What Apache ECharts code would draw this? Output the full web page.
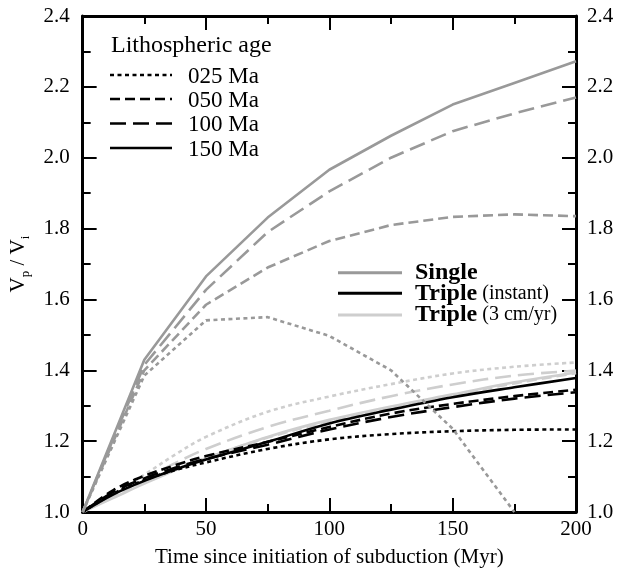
<!DOCTYPE html>
<html>
<head>
<meta charset="utf-8">
<script src="https://cdn.jsdelivr.net/npm/echarts@6/dist/echarts.min.js"></script>
<style>
html,body{margin:0;padding:0;background:#fff;}
#chart{width:617px;height:573px;}
</style>
</head>
<body>
<div id="chart"></div>
<script>
// ---- data ----
var T_SINGLE = [0, 25, 50, 75, 100, 125, 150, 175, 200];
var T_TRIPLE = [0, 12.5, 25, 37.5, 50, 75, 100, 125, 150, 175, 200];

var single025 = [1.0, 1.385, 1.541, 1.550, 1.497, 1.400, 1.235, 1.0, null];
var single050 = [1.0, 1.400, 1.585, 1.690, 1.765, 1.810, 1.833, 1.840, 1.835];
var single100 = [1.0, 1.415, 1.627, 1.790, 1.905, 2.000, 2.075, 2.125, 2.170];
var single150 = [1.0, 1.430, 1.665, 1.831, 1.966, 2.062, 2.150, 2.211, 2.272];

var tripleI025 = [1.0, 1.052, 1.090, 1.118, 1.140, 1.178, 1.205, 1.220, 1.228, 1.232, 1.233];
var tripleI050 = [1.0, 1.062, 1.102, 1.132, 1.158, 1.198, 1.240, 1.278, 1.305, 1.327, 1.345];
var tripleI100 = [1.0, 1.057, 1.095, 1.125, 1.150, 1.190, 1.233, 1.268, 1.296, 1.320, 1.338];
var tripleI150 = [1.0, 1.050, 1.088, 1.120, 1.148, 1.198, 1.250, 1.289, 1.324, 1.352, 1.378];

var tripleS025 = [1.0, 1.050, 1.105, 1.162, 1.212, 1.283, 1.326, 1.361, 1.391, 1.410, 1.422];
var tripleS050 = [1.0, 1.043, 1.083, 1.120, 1.152, 1.210, 1.256, 1.295, 1.330, 1.363, 1.392];
var tripleS100 = [1.0, 1.048, 1.093, 1.138, 1.178, 1.240, 1.286, 1.327, 1.360, 1.385, 1.399];
var tripleS150 = [1.0, 1.040, 1.080, 1.118, 1.152, 1.212, 1.260, 1.298, 1.332, 1.366, 1.394];

var AGE_LABELS = ['025 Ma', '050 Ma', '100 Ma', '150 Ma'];
var MODEL_LABELS = ['Single', 'Triple', 'Triple'];
var MODEL_NOTES = ['', '(instant)', '(3 cm/yr)'];

// ---- styles ----
var FONT = 'Liberation Serif';
var C_SINGLE = '#999999', C_INST = '#000000', C_SLOW = '#cecece';
var DASH = [[4, 3.5], [10, 5], [16, 7], 'solid'];
var LW = 2.6;

function pairs(ts, vs) {
  var out = [];
  for (var i = 0; i < ts.length; i++) if (vs[i] !== null) out.push([ts[i], vs[i]]);
  return out;
}
function mk(name, ts, vs, color, dash, smooth) {
  return {
    name: name, type: 'line', data: pairs(ts, vs), symbol: 'none',
    smooth: smooth ? 0.35 : false,
    lineStyle: { color: color, width: LW, type: dash, cap: 'butt' },
    clip: true, z: 2, animation: false
  };
}

var series = [
  mk('S025', T_TRIPLE, tripleS025, C_SLOW, DASH[0], true),
  mk('S050', T_TRIPLE, tripleS050, C_SLOW, DASH[1], true),
  mk('S100', T_TRIPLE, tripleS100, C_SLOW, DASH[2], true),
  mk('S150', T_TRIPLE, tripleS150, C_SLOW, DASH[3], true),
  mk('I025', T_TRIPLE, tripleI025, C_INST, DASH[0], true),
  mk('I050', T_TRIPLE, tripleI050, C_INST, DASH[1], true),
  mk('I100', T_TRIPLE, tripleI100, C_INST, DASH[2], true),
  mk('I150', T_TRIPLE, tripleI150, C_INST, DASH[3], true),
  mk('G025', T_SINGLE, single025, C_SINGLE, DASH[0], false),
  mk('G050', T_SINGLE, single050, C_SINGLE, DASH[1], false),
  mk('G100', T_SINGLE, single100, C_SINGLE, DASH[2], false),
  mk('G150', T_SINGLE, single150, C_SINGLE, DASH[3], false)
];

function axisCommon(showLabel) {
  return {
    axisLine: { show: true, onZero: false, lineStyle: { color: '#000', width: 3 } },
    axisTick: { show: true, inside: true, length: 14, lineStyle: { color: '#000', width: 2 } },
    minorTick: { show: true, splitNumber: 2, length: 8, lineStyle: { color: '#000', width: 2 } },
    splitLine: { show: false },
    minorSplitLine: { show: false },
    axisLabel: { show: showLabel, color: '#000', fontFamily: FONT, fontSize: 21 }
  };
}

var xb = Object.assign({ type: 'value', min: 0, max: 200, interval: 50, position: 'bottom',
  name: 'Time since initiation of subduction (Myr)', nameLocation: 'middle', nameGap: 35,
  nameTextStyle: { color: '#000', fontFamily: FONT, fontSize: 21 } }, axisCommon(true));
xb.axisLabel.margin = 7;
var xt = Object.assign({ type: 'value', min: 0, max: 200, interval: 50, position: 'top' }, axisCommon(false));

var fmt = function (v) { return v.toFixed(1); };
var yl = Object.assign({ type: 'value', min: 1.0, max: 2.4, interval: 0.2, position: 'left',
  name: '{v|V}{s|p}{v| / V}{s|i}', nameLocation: 'middle', nameGap: 44, nameRotate: 90,
  nameTextStyle: { color: '#000', fontFamily: FONT, fontSize: 21,
    rich: {
      v: { fontFamily: FONT, fontSize: 21, color: '#000', lineHeight: 22 },
      s: { fontFamily: FONT, fontSize: 13, color: '#000', lineHeight: 22, verticalAlign: 'bottom', padding: [0, 0, -3, 0] }
    } } }, axisCommon(true));
yl.axisLabel.formatter = fmt; yl.axisLabel.margin = 13;
var yr = Object.assign({ type: 'value', min: 1.0, max: 2.4, interval: 0.2, position: 'right' }, axisCommon(true));
yr.axisLabel.formatter = fmt; yr.axisLabel.margin = 11;

// ---- legends (graphic) ----
var g = [];
g.push({ type: 'text', x: 111, y: 45.5, style: { text: 'Lithospheric age', fontFamily: FONT, fontSize: 24, fill: '#000', verticalAlign: 'middle' } });
var ageY = [75, 99, 123.5, 148];
for (var i = 0; i < 4; i++) {
  g.push({ type: 'line', shape: { x1: 110, y1: ageY[i], x2: 172, y2: ageY[i] },
    style: { stroke: '#000', lineWidth: 2.6, lineDash: DASH[i] === 'solid' ? null : DASH[i] } });
  g.push({ type: 'text', x: 188, y: ageY[i] + 1.5, style: { text: AGE_LABELS[i], fontFamily: FONT, fontSize: 23, fill: '#000', verticalAlign: 'middle' } });
}
var modY = [272.7, 293.3, 315];
var modC = [C_SINGLE, C_INST, C_SLOW];
for (var j = 0; j < 3; j++) {
  g.push({ type: 'line', shape: { x1: 338, y1: modY[j], x2: 402, y2: modY[j] },
    style: { stroke: modC[j], lineWidth: 3 } });
  var txt = '{b|' + MODEL_LABELS[j] + '}' + (MODEL_NOTES[j] ? '{n| ' + MODEL_NOTES[j] + '}' : '');
  g.push({ type: 'text', x: 415, y: modY[j], style: { text: txt, verticalAlign: 'middle', fill: '#000',
    rich: {
      b: { fontFamily: FONT, fontSize: 24, fontWeight: 'bold', fill: '#000' },
      n: { fontFamily: FONT, fontSize: 20, fill: '#000' }
    } } });
}

var chart = echarts.init(document.getElementById('chart'), null, { renderer: 'canvas' });
chart.setOption({
  animation: false,
  backgroundColor: '#fff',
  grid: { left: 78, top: 16, width: 498, height: 499, containLabel: false },
  xAxis: [xb, xt],
  yAxis: [yl, yr],
  series: series,
  graphic: g
});
</script>
</body>
</html>
